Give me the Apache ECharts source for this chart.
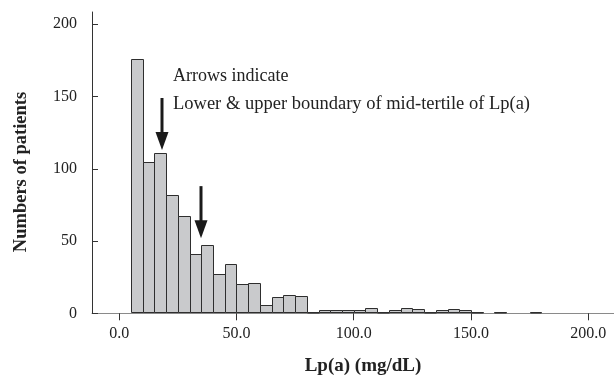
<!DOCTYPE html>
<html>
<head>
<meta charset="utf-8">
<script src="https://cdn.jsdelivr.net/npm/echarts@6/dist/echarts.min.js"></script>
<style>
html,body{margin:0;padding:0;background:#fff;}
#chart{width:614px;height:378px;}
</style>
</head>
<body>
<div id="chart"></div>
<script>
// Histogram bins of Lp(a) (mg/dL), width 5
const binStarts = [5,10,15,20,25,30,35,40,45,50,55,60,65,70,75,80,85,90,95,100,105,110,115,120,125,130,135,140,145,150,155,160,165,170,175];
const binWidth = 5;
const counts = [176,105,111,82,67,41,47,27,34,20,21,6,11,13,12,1,2,2,2,2,4,1,2,4,3,1,2,3,2,1,0,1,0,0,1];
// Arrows marking lower & upper boundary of mid-tertile
const arrowX = [18.3, 34.7];
const arrowTop = [149, 88];
const arrowTip = [113, 52];
const xTicks = [0, 50, 100, 150, 200];
const yTicks = [0, 50, 100, 150, 200];

const FONT = '"Liberation Serif", "Times New Roman", serif';

const barData = binStarts.map((s, i) => [s, s + binWidth, counts[i]]);
const arrowData = arrowX.map((x, i) => [x, arrowTop[i], arrowTip[i]]);

const chart = echarts.init(document.getElementById('chart'));
chart.setOption({
  animation: false,
  grid: { left: 92, right: 0, top: 12, bottom: 64.7, outerBoundsMode: 'none' },
  xAxis: {
    type: 'value', min: -11.6, max: 211,
    splitLine: { show: false },
    axisLine: { show: true, onZero: false, lineStyle: { color: '#8a8a8a', width: 1 } },
    axisTick: { show: true, inside: false, length: 7, lineStyle: { color: '#333' }, customValues: xTicks },
    axisLabel: { customValues: xTicks, formatter: v => v.toFixed(1), margin: 12, color: '#222', fontFamily: FONT, fontSize: 16 }
  },
  yAxis: {
    type: 'value', min: 0, max: 208.5,
    splitLine: { show: false },
    axisLine: { show: true, onZero: false, lineStyle: { color: '#333', width: 1 } },
    axisTick: { show: true, inside: true, length: 6, lineStyle: { color: '#333' }, customValues: yTicks },
    axisLabel: { customValues: yTicks, margin: 15, color: '#222', fontFamily: FONT, fontSize: 16 }
  },
  series: [
    {
      type: 'custom',
      data: barData,
      encode: { x: [0, 1], y: 2 },
      renderItem: function (params, api) {
        const c = api.value(2);
        if (!c) return null;
        const p0 = api.coord([api.value(0), c]);
        const p1 = api.coord([api.value(1), 0]);
        const x0 = Math.round(p0[0]) + 0.5, x1 = Math.round(p1[0]) + 0.5;
        const y0 = Math.round(p0[1]) + 0.5, y1 = Math.round(p1[1]) - 0.5;
        return {
          type: 'rect',
          shape: { x: x0, y: y0, width: x1 - x0, height: Math.max(y1 - y0, 0.5) },
          style: { fill: '#c9cacc', stroke: '#2e2e2e', lineWidth: 1 }
        };
      }
    },
    {
      type: 'custom',
      data: arrowData,
      encode: { x: 0, y: [1, 2] },
      z: 5,
      renderItem: function (params, api) {
        const top = api.coord([api.value(0), api.value(1)]);
        const tip = api.coord([api.value(0), api.value(2)]);
        const headH = 18, headW = 13;
        const x = Math.round(top[0]);
        return {
          type: 'group',
          children: [
            { type: 'line', shape: { x1: x, y1: top[1], x2: x, y2: tip[1] - headH + 1 }, style: { stroke: '#1a1a1a', lineWidth: 3 } },
            { type: 'polygon', shape: { points: [[x - headW / 2, tip[1] - headH], [x + headW / 2, tip[1] - headH], [x, tip[1]]] }, style: { fill: '#1a1a1a' } }
          ]
        };
      }
    }
  ],
  graphic: [
    { type: 'text', x: 173, y: 76, style: { text: 'Arrows indicate', font: '18px ' + FONT, fill: '#222', align: 'left', verticalAlign: 'middle' } },
    { type: 'text', x: 173, y: 104, style: { text: 'Lower & upper boundary of mid-tertile of Lp(a)', font: '18.5px ' + FONT, fill: '#222', align: 'left', verticalAlign: 'middle' } },
    { type: 'text', x: 363, y: 366, style: { text: 'Lp(a) (mg/dL)', font: 'bold 19px ' + FONT, fill: '#222', align: 'center', verticalAlign: 'middle' } },
    { type: 'text', x: 21, y: 172, rotation: Math.PI / 2, style: { text: 'Numbers of patients', font: 'bold 18.5px ' + FONT, fill: '#222', align: 'center', verticalAlign: 'middle' } }
  ]
});
</script>
</body>
</html>
